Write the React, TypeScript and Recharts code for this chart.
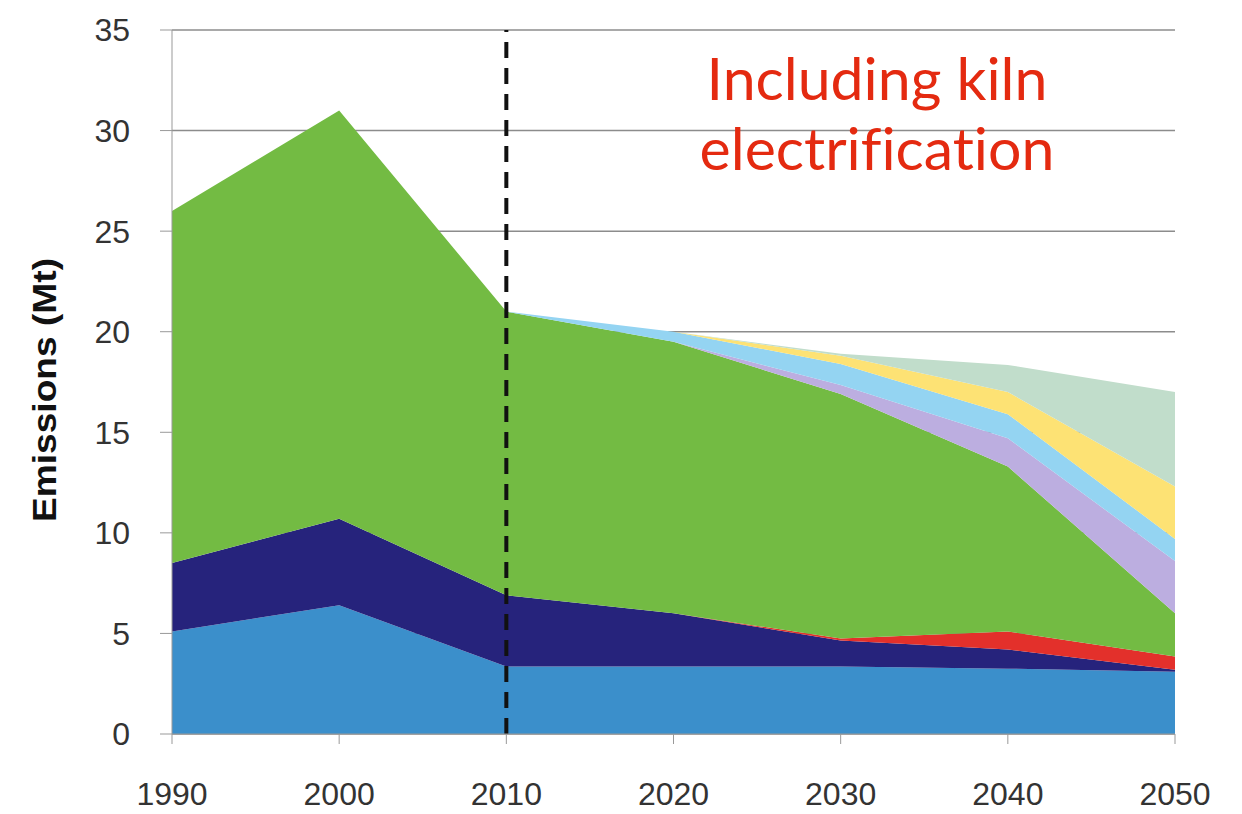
import React from "react";
import {
  Area,
  AreaChart,
  CartesianGrid,
  ReferenceLine,
  XAxis,
  YAxis,
} from "recharts";

// decades on the x axis
const years = [1990, 2000, 2010, 2020, 2030, 2040, 2050];

// stacked layers, bottom to top (Mt)
const process = [5.1, 6.4, 3.35, 3.35, 3.35, 3.25, 3.1];
const fuelDark = [3.4, 4.3, 3.55, 2.65, 1.3, 0.95, 0.1];
const electricity = [0, 0, 0, 0, 0.1, 0.9, 0.65];
const fuelGreen = [17.5, 20.3, 14.1, 13.5, 12.15, 8.2, 2.15];
const lavender = [0, 0, 0, 0, 0.45, 1.4, 2.6];
const skyBlue = [0, 0, 0, 0.5, 1.05, 1.2, 1.1];
const yellow = [0, 0, 0, 0, 0.4, 1.1, 2.6];
const sage = [0, 0, 0, 0, 0.1, 1.35, 4.7];

const yTicks = [0, 5, 10, 15, 20, 25, 30, 35];

const data = years.map((year, i) => ({
  year,
  process: process[i],
  fuelDark: fuelDark[i],
  electricity: electricity[i],
  fuelGreen: fuelGreen[i],
  lavender: lavender[i],
  skyBlue: skyBlue[i],
  yellow: yellow[i],
  sage: sage[i],
}));

const layers = [
  { key: "process", color: "#3b8fcb" },
  { key: "fuelDark", color: "#26237c" },
  { key: "electricity", color: "#e3302b" },
  { key: "fuelGreen", color: "#73bb43" },
  { key: "lavender", color: "#bcaee0" },
  { key: "skyBlue", color: "#94d4f2" },
  { key: "yellow", color: "#fde274" },
  { key: "sage", color: "#c1ddcb" },
];

const tickStyle = { fontFamily: "Liberation Sans, Arial", fontSize: 32, fill: "#333" };

function YLabel() {
  return (
    <text
      x={44}
      y={390}
      transform="rotate(-90 44 390)"
      textAnchor="middle"
      dominantBaseline="central"
      fontFamily="Liberation Sans, Arial"
      fontWeight="bold"
      fontSize={34}
      fill="#111"
      textLength={264}
      lengthAdjust="spacingAndGlyphs"
    >
      Emissions (Mt)
    </text>
  );
}

export default function App() {
  return (
    <div style={{ position: "absolute", left: 0, top: 0, width: 1242, height: 814, background: "#fff" }}>
      <AreaChart
        width={1242}
        height={814}
        data={data}
        margin={{ top: 30, right: 67, bottom: 0, left: 0 }}
      >
        <CartesianGrid vertical={false} stroke="#8c8c8c" strokeWidth={1.5} />
        <XAxis
          dataKey="year"
          type="number"
          domain={[1990, 2050]}
          ticks={years}
          height={80}
          tick={tickStyle}
          tickSize={10}
          tickMargin={38}
          stroke="#999"
        />
        <YAxis
          domain={[0, 35]}
          ticks={yTicks}
          width={172}
          tick={tickStyle}
          tickSize={12}
          tickMargin={30}
          stroke="#999"
          interval={0}
        />
        {layers.map((l) => (
          <Area
            key={l.key}
            type="linear"
            dataKey={l.key}
            stackId="a"
            stroke="none"
            fill={l.color}
            fillOpacity={1}
            isAnimationActive={false}
          />
        ))}
        <ReferenceLine x={2010} stroke="#111" strokeWidth={4} strokeDasharray="16 10" />
        <YLabel />
      </AreaChart>
      <div
        style={{
          position: "absolute",
          left: 677,
          top: 43,
          width: 400,
          textAlign: "center",
          color: "#e42a10",
          fontFamily: "Lato, 'Open Sans', sans-serif",
          fontSize: 59,
          lineHeight: "70px",
          fontVariantLigatures: "none",
        }}
      >
        Including kiln
        <br />
        electrification
      </div>
    </div>
  );
}
